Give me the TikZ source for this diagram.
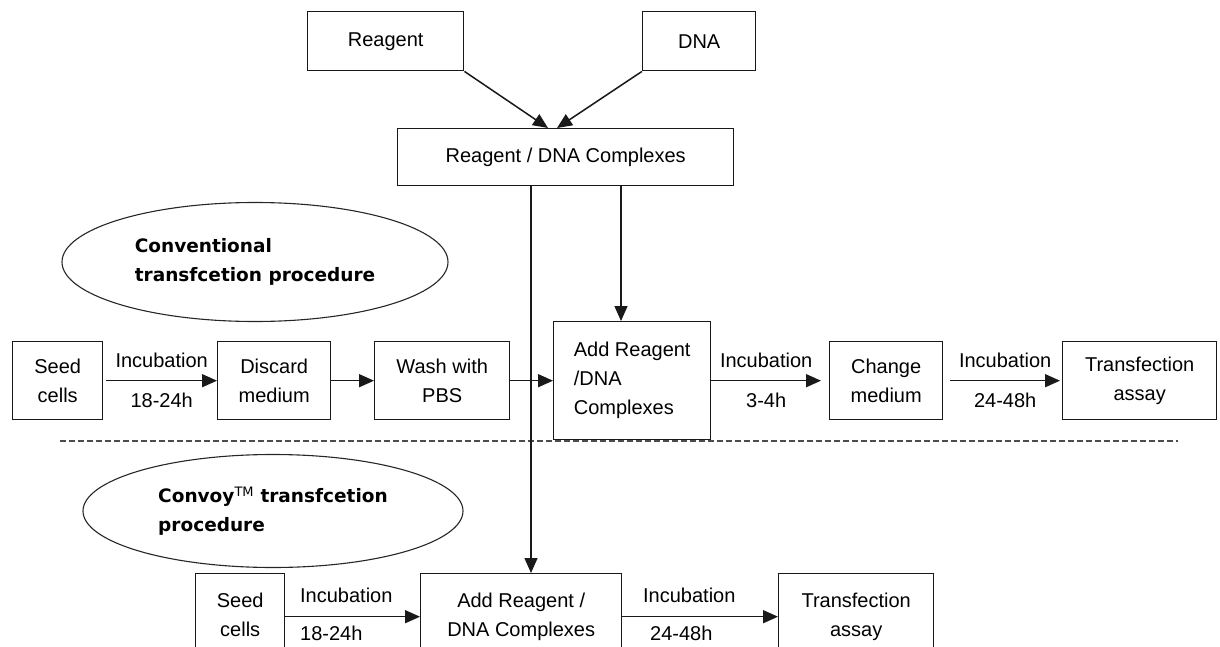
\documentclass[tikz,border=0pt]{standalone}
\usepackage{fontspec}
\setmainfont{Liberation Sans}
\newfontfamily\ovalfont{DejaVu Sans}
\usetikzlibrary{arrows.meta, positioning, shapes.geometric}

\begin{document}
\begin{tikzpicture}[
    x=1pt, y=-1pt,
    >={Triangle[length=15pt, width=13pt]},
    box/.style={rectangle, draw=black!90, line width=1.4pt, fill=white, inner sep=0pt, align=center, anchor=north west, font=\fontsize{20}{29}\selectfont},
    oval/.style={ellipse, draw=black!85, line width=1.1pt, inner sep=0pt, align=left, font=\ovalfont\bfseries\fontsize{18.5}{29}\selectfont},
    lbl/.style={inner sep=0pt, font=\fontsize{20}{24}\selectfont},
    flow/.style={->, line width=1.5pt, draw=black!90},
    sep/.style={dash pattern=on 6pt off 3pt, line width=1.2pt, draw=black!70}
  ]
    \useasboundingbox (0,0) rectangle (1220,647);

    % mixing
    \node[box, minimum width=156pt, minimum height=59pt] (reag) at (307,11) {\raisebox{-3pt}{Reagent}};
    \node[box, minimum width=113pt, minimum height=59pt] (dna) at (642,11) {DNA};
    \node[box, minimum width=336pt, minimum height=57pt] (cplx) at (397,128) {Reagent / DNA Complexes};
    \coordinate (tipL) at (548,0);
    \coordinate (tipR) at (557,0);
    \coordinate (dropB) at (531,0);
    \coordinate (dropA) at (621,0);
    \draw[flow] (reag.south east) -- (cplx.north -| tipL);
    \draw[flow] (dna.south west) -- (cplx.north -| tipR);

    % conventional
    \node[oval, minimum width=386pt, minimum height=119pt] (ovalA) at (255,262) {Conventional\\transfcetion procedure};
    \node[box, minimum width=90pt, minimum height=78pt] (seedA) at (12,341) {Seed\\cells};
    \node[box, minimum width=113pt, minimum height=78pt] (discA) at (217,341) {Discard\\medium};
    \node[box, minimum width=135pt, minimum height=78pt] (washA) at (374,341) {Wash with\\PBS};
    \node[box, minimum width=157pt, minimum height=118pt, align=left] (addA) at (553,321) {Add Reagent\\/DNA\\Complexes};
    \node[box, minimum width=113pt, minimum height=78pt] (chgA) at (829,341) {Change\\medium};
    \node[box, minimum width=154pt, minimum height=78pt] (assayA) at (1062,341) {Transfection\\assay};
    \draw[flow] ([xshift=3pt]seedA.east) -- node[lbl, above=12pt] {Incubation} node[lbl, below=12pt] {18-24h} (discA.west);
    \draw[flow] (discA) -- (washA);
    \draw[flow] (washA.east) -- (washA.east -| addA.west);
    \draw[flow] (addA.east) -- node[lbl, above=12pt] {Incubation} node[lbl, below=12pt] {3-4h} ([xshift=-8pt]chgA.west);
    \draw[flow] ([xshift=7pt]chgA.east) -- node[lbl, above=12pt] {Incubation} node[lbl, below=12pt] {24-48h} ([xshift=-2pt]assayA.west);

    \coordinate (sepL) at (60,441);
    \coordinate (sepR) at (1178,441);
    \draw[sep] (sepL) -- (sepR);

    % convoy
    \node[oval, minimum width=380pt, minimum height=113pt] (ovalB) at (273,511) {Convoy\textsuperscript{\mdseries TM}\ transfcetion\\procedure};
    \node[box, minimum width=89pt, minimum height=86pt] (seedB) at (195,573) {\raisebox{4pt}{Seed}\\\raisebox{4pt}{cells}};
    \node[box, minimum width=201pt, minimum height=86pt] (addB) at (420,573) {\raisebox{4pt}{Add Reagent /}\\\raisebox{4pt}{DNA Complexes}};
    \node[box, minimum width=155pt, minimum height=86pt] (assayB) at (778,573) {\raisebox{4pt}{Transfection}\\\raisebox{4pt}{assay}};
    \draw[flow] (seedB) -- node[lbl, pos=0, above right=13pt and 14pt] {Incubation} node[lbl, pos=0, below right=9pt and 14pt] {18-24h} (addB);
    \draw[flow] (addB) -- node[lbl, pos=0, above right=13pt and 20pt] {Incubation} node[lbl, pos=0, below right=9pt and 27pt] {24-48h} (assayB);

    \draw[flow] (cplx.south -| dropB) -- (addB.north -| dropB);
    \draw[flow] (cplx.south -| dropA) -- (addA.north -| dropA);
  \end{tikzpicture}
\end{document}
